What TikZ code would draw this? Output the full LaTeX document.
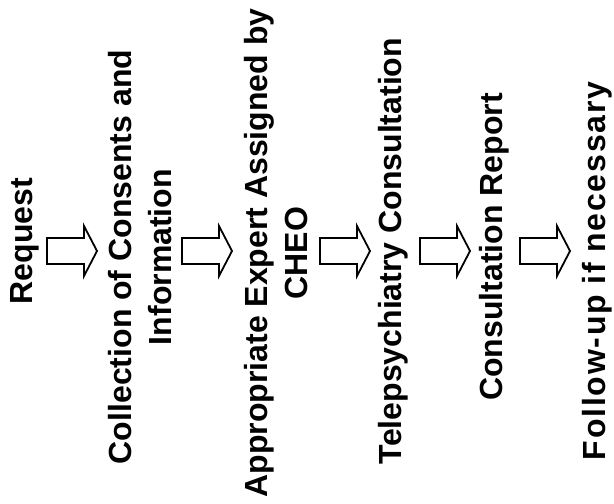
\documentclass[tikz,border=0pt]{standalone}
\usepackage{fontspec}
\setmainfont{Liberation Sans}
\begin{document}
\begin{tikzpicture}[x=0.5pt,y=-0.5pt]
\tikzstyle{stage}=[rotate=90, align=center, inner sep=0pt, font=\fontsize{16}{20}\selectfont\bfseries]
\tikzset{blockarrow/.pic={\draw[line width=0.9pt, line join=miter] (-25,-13) -- (12,-13) -- (12,-25) -- (25,0) -- (12,25) -- (12,13) -- (-25,13) -- cycle;}}
\useasboundingbox (0,0) rectangle (614,503);
\node[stage] (req) at (25,241) {Request};
\node[stage] (coll) at (140,257) {Collection of Consents and\\Information};
\node[stage] (expert) at (276,253) {Appropriate Expert Assigned by\\CHEO};
\node[stage] (tele) at (393,251) {Telepsychiatry Consultation};
\node[stage] (report) at (494,247) {Consultation Report};
\node[stage] (follow) at (597,271) {\addfontfeature{LetterSpace=5.5}Follow-up if necessary};
\pic (a1) at (72,251) {blockarrow};
\pic (a2) at (207,251) {blockarrow};
\pic (a3) at (345,251) {blockarrow};
\pic (a4) at (445,251) {blockarrow};
\pic (a5) at (545,251) {blockarrow};
\end{tikzpicture}
\end{document}
